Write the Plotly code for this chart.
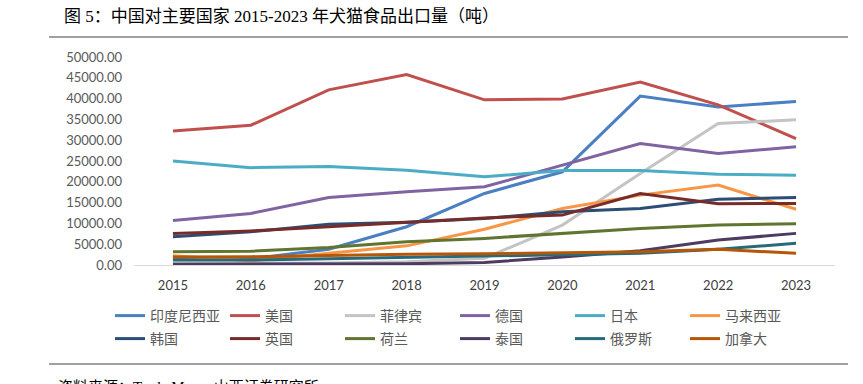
import plotly.graph_objects as go

years = ['2015', '2016', '2017', '2018', '2019', '2020', '2021', '2022', '2023']

indonesia = [1500, 1500, 3800, 9200, 17200, 22400, 40600, 38000, 39300]
usa = [32200, 33600, 42100, 45800, 39700, 39900, 44000, 38500, 30400]
philippines = [500, 500, 500, 800, 1600, 9600, 22000, 34000, 34900]
germany = [10700, 12400, 16200, 17600, 18800, 24000, 29200, 26800, 28400]
japan = [25000, 23400, 23700, 22800, 21200, 22700, 22700, 21800, 21600]
malaysia = [2200, 1000, 2800, 4600, 8600, 13600, 16800, 19200, 13400]
korea = [6800, 8000, 9800, 10300, 11200, 12800, 13600, 15800, 16200]
uk = [7600, 8200, 9200, 10300, 11300, 12000, 17200, 14700, 14800]
netherlands = [3200, 3300, 4200, 5600, 6400, 7600, 8800, 9600, 9900]
thailand = [200, 200, 200, 300, 600, 1900, 3400, 6000, 7600]
russia = [1200, 1200, 1500, 1800, 2100, 2400, 2800, 3800, 5200]
canada = [1900, 2000, 2300, 2600, 2700, 2900, 3200, 3800, 2800]

series = [
    ('印度尼西亚', indonesia, '#4A7FC1', 'legend'),
    ('美国', usa, '#C0504D', 'legend'),
    ('菲律宾', philippines, '#C4C4C4', 'legend'),
    ('德国', germany, '#8064A2', 'legend'),
    ('日本', japan, '#4BACC6', 'legend'),
    ('马来西亚', malaysia, '#F79646', 'legend'),
    ('韩国', korea, '#2C4D75', 'legend2'),
    ('英国', uk, '#772C2A', 'legend2'),
    ('荷兰', netherlands, '#5F7530', 'legend2'),
    ('泰国', thailand, '#4D3B62', 'legend2'),
    ('俄罗斯', russia, '#276A7C', 'legend2'),
    ('加拿大', canada, '#B65708', 'legend2'),
]

fig = go.Figure()
for name, vals, color, lg in series:
    fig.add_trace(go.Scatter(
        x=years, y=vals, name=name, mode='lines',
        line=dict(color=color, width=3),
        legend=lg,
    ))

W, H = 863, 384
L, R, T, B = 134, 28, 57, 119
pw = W - L - R
ph = H - T - B

def px_x(px):
    return (px - L) / pw

def px_y(py):
    return (H - B - py) / ph

legend_common = dict(
    orientation='h',
    xref='paper', yref='paper',
    xanchor='left', yanchor='middle',
    entrywidth=70, entrywidthmode='pixels',
    font=dict(family='Noto Sans CJK SC', size=14, color='#595959'),
    bgcolor='rgba(0,0,0,0)',
    traceorder='normal',
)

fig.update_layout(
    width=W, height=H,
    margin=dict(l=L, r=R, t=T, b=B),
    paper_bgcolor='white', plot_bgcolor='white',
    showlegend=True,
    legend=dict(x=px_x(110), y=px_y(316), **legend_common),
    legend2=dict(x=px_x(110), y=px_y(339), **legend_common),
    xaxis=dict(
        type='category', range=[-0.5, 8.5], showgrid=False, zeroline=False,
        showline=True, linecolor='#D9D9D9', linewidth=1,
        ticks='', ticklabelstandoff=8,
        tickfont=dict(family='Lato', size=13, color='#404040'),
    ),
    yaxis=dict(
        range=[0, 50000], dtick=5000, tickformat='.2f',
        showgrid=False, zeroline=False, showline=False, ticks='',
        ticklabelstandoff=11,
        tickfont=dict(family='Lato', size=13, color='#595959'),
    ),
    shapes=[
        dict(type='line', xref='paper', yref='paper',
             x0=px_x(49), x1=px_x(848), y0=px_y(37), y1=px_y(37),
             line=dict(color='#808080', width=1.5)),
        dict(type='line', xref='paper', yref='paper',
             x0=px_x(49), x1=px_x(848), y0=px_y(364), y1=px_y(364),
             line=dict(color='#808080', width=1.5)),
    ],
    annotations=[
        dict(text='图 5：中国对主要国家 2015-2023 年犬猫食品出口量（吨）',
             xref='paper', yref='paper', x=px_x(62), y=px_y(16),
             xanchor='left', yanchor='middle', showarrow=False,
             font=dict(family='Liberation Serif, Noto Sans CJK SC', size=17, color='#000000')),
        dict(text='资料来源：Trade Map，山西证券研究所',
             xref='paper', yref='paper', x=px_x(56), y=px_y(387),
             xanchor='left', yanchor='middle', showarrow=False,
             font=dict(family='Liberation Serif, Noto Sans CJK SC', size=15, color='#000000')),
    ],
)

fig.write_html('out.html', config={'displayModeBar': False})

with open('out.html', 'r', encoding='utf-8') as f:
    html = f.read()
html = html.replace('<body>', '<body style="margin:0;padding:0;overflow:hidden;">', 1)
with open('out.html', 'w', encoding='utf-8') as f:
    f.write(html)
